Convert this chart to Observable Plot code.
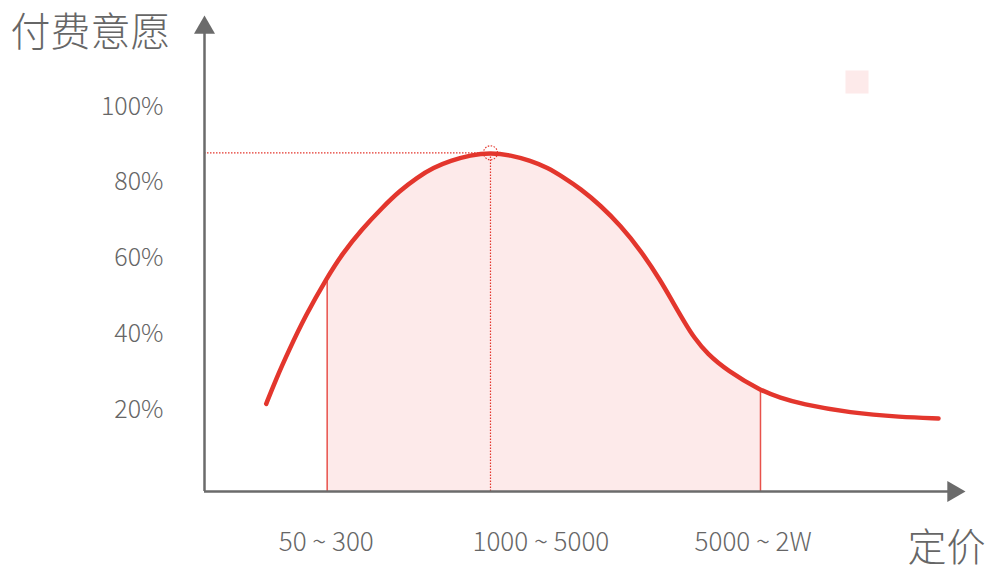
<!DOCTYPE html>
<html>
<head>
<meta charset="utf-8">
<script src="https://cdn.jsdelivr.net/npm/d3@7"></script>
<script src="https://cdn.jsdelivr.net/npm/@observablehq/plot@0.6"></script>
<style>
  html, body { margin: 0; padding: 0; background: #fff; }
  #chart svg { display: block; }
</style>
</head>
<body>
<div id="chart"></div>
<script>
// ---- data ----
const priceX = [8.11, 9.33, 11.08, 13.27, 16.12, 18.09, 20.72, 23.35, 25.62, 27.95, 30.09, 32.33, 34.95, 37.58, 40.21, 42.84, 45.07, 47.17, 49.41, 52.04, 54.66, 57.29, 59.92, 61.67, 63.21, 64.30, 66.06, 68.69, 73.06, 75.69, 78.32, 84.89, 91.46, 96.45];
const willingness = [21.5, 27.7, 35.6, 44.8, 54.9, 61.1, 67.7, 73.3, 77.7, 81.3, 83.9, 85.7, 87.2, 87.8, 87.2, 85.7, 83.9, 81.3, 78.3, 73.9, 68.6, 62.1, 54.1, 47.9, 42.6, 39.1, 34.7, 30.3, 25.0, 23.1, 21.5, 19.1, 18.0, 17.65];
const categories = ["50 ~ 300", "1000 ~ 5000", "5000 ~ 2W"];
const categoryX = [16.0, 44.2, 72.1];
const yTicks = [20, 40, 60, 80, 100];
const bandStart = 4;   // index where the shaded band starts
const bandEnd = 28;    // index where the shaded band ends
const yTitle = "付费意愿";
const xTitle = "定价";

// ---- derived ----
const data = priceX.map((x, i) => ({x, y: willingness[i]}));
const band = data.slice(bandStart, bandEnd + 1);
const edges = [data[bandStart], data[bandEnd]];
const peak = data[d3.maxIndex(willingness)];
const yMin = -1.65;
const catLabel = new Map(categoryX.map((x, i) => [x, categories[i]]));

const red = "#e3362d";
const pink = "#fdeaea";
const gray = "#6b6b6b";
const curve = "basis";
const font = "'Noto Sans CJK SC', 'Noto Sans', sans-serif";

const chart = Plot.plot({
  width: 1000,
  height: 582,
  marginLeft: 204,
  marginRight: 50,
  marginTop: 30,
  marginBottom: 91,
  style: {fontFamily: font, fontWeight: 300, color: "#666", background: "#fff"},
  x: {domain: [0, 100], range: [204, 965]},
  y: {domain: [yMin, 120.1], range: [491, 30]},
  marks: [
    // shaded band under the curve
    Plot.areaY(band, {x: "x", y1: yMin, y2: "y", fill: pink, curve}),
    // solid edge lines
    Plot.ruleX(edges, {x: "x", y1: yMin, y2: "y", stroke: "#e8524b", strokeWidth: 1.5}),
    // dotted guides to the peak
    Plot.ruleX([peak], {x: "x", y1: yMin, y2: "y", stroke: red, strokeWidth: 1.2, strokeDasharray: "1.5,1.5"}),
    Plot.ruleY([peak], {y: "y", x1: 0, x2: "x", stroke: red, strokeWidth: 1.2, strokeDasharray: "1.5,1.5"}),
    // main curve
    Plot.line(data, {x: "x", y: "y", stroke: red, strokeWidth: 4.5, curve, strokeLinecap: "round"}),
    // peak circle
    Plot.dot([peak], {x: "x", y: "y", r: 7, stroke: red, strokeWidth: 1.2, strokeDasharray: "1.5,1.5", fill: "none"}),
    // axes lines
    Plot.ruleX([0], {stroke: gray, strokeWidth: 2.5}),
    Plot.ruleY([yMin], {stroke: gray, strokeWidth: 2.5}),
    // arrowheads
    Plot.dot([0], {frameAnchor: "top-left", symbol: "triangle", r: 7.8, fill: gray, stroke: "none", dy: -2.9}),
    Plot.dot([0], {frameAnchor: "bottom-right", symbol: "triangle", r: 7.8, fill: gray, stroke: "none", rotate: 90, dx: 2.9}),
    // legend swatch
    Plot.dot([0], {frameAnchor: "top-right", symbol: "square", r: 13, fill: pink, stroke: "none", dx: -93.5, dy: 51.5}),
    // tick labels
    Plot.axisY({ticks: yTicks, tickFormat: d => d + "%", tickSize: 0, tickPadding: 41, fontSize: 25, label: null}),
    Plot.axisX({ticks: categoryX, tickFormat: d => catLabel.get(d), tickSize: 0, tickPadding: 41, fontSize: 26, label: null}),
    // axis titles
    Plot.text([yTitle], {text: d => d, frameAnchor: "top-left", textAnchor: "start", lineAnchor: "middle", dx: -194, dy: 2.5, fontSize: 40, fill: "#666"}),
    Plot.text([xTitle], {text: d => d, frameAnchor: "bottom-right", textAnchor: "end", lineAnchor: "middle", dx: 35, dy: 57, fontSize: 39, fill: "#666"})
  ]
});
document.getElementById("chart").appendChild(chart);
</script>
</body>
</html>
